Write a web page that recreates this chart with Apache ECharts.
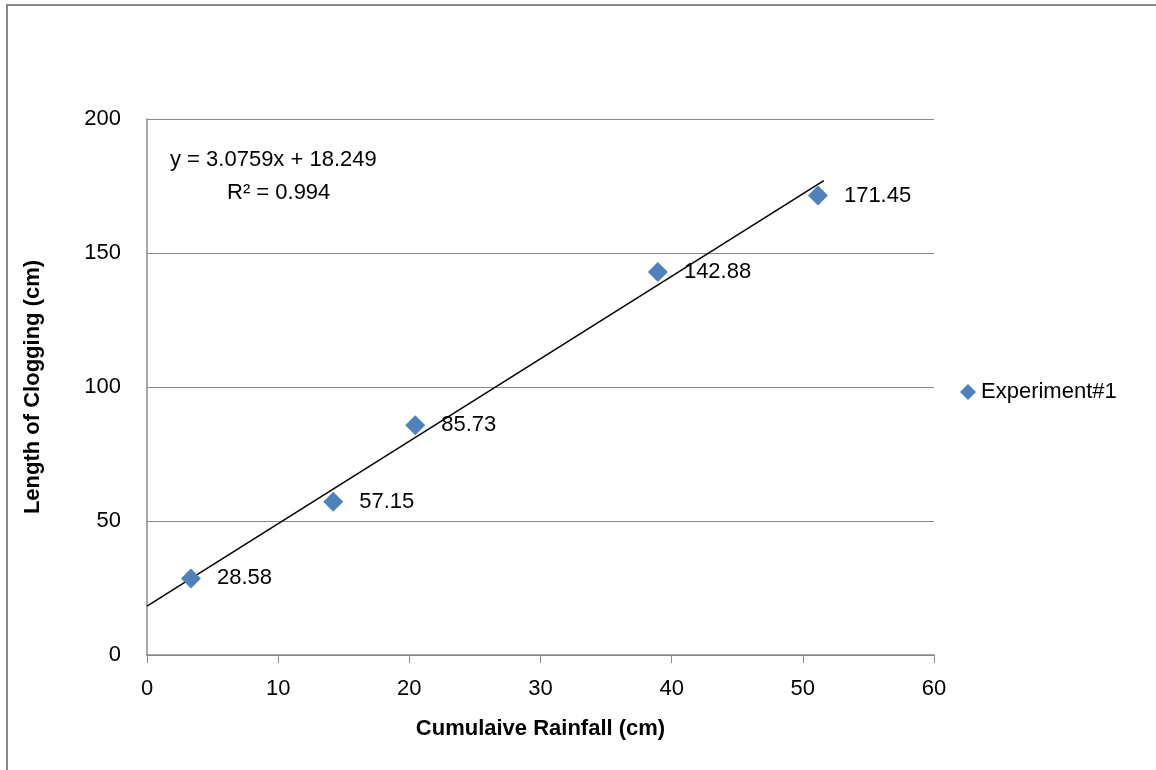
<!DOCTYPE html>
<html><head><meta charset="utf-8">
<script src="https://cdn.jsdelivr.net/npm/echarts@6/dist/echarts.min.js"></script>
<style>html,body{margin:0;padding:0;background:#fff}#c{width:1156px;height:770px}</style>
</head><body><div id="c"></div>
<script>
const rainfall = [3.35, 14.2, 20.45, 38.95, 51.15];
const clogging = [28.58, 57.15, 85.73, 142.88, 171.45];
const xTicks = [0, 10, 20, 30, 40, 50, 60];
const yTicks = [0, 50, 100, 150, 200];
const slope = 3.0759, intercept = 18.249, r2 = 0.994;
const trendStart = 0, trendEnd = 51.6;
const seriesName = 'Experiment#1';
const xTitle = 'Cumulaive Rainfall (cm)';
const yTitle = 'Length of Clogging (cm)';

const FONT = 'Liberation Sans';
const FS = 22;
const chart = echarts.init(document.getElementById('c'));
const pts = rainfall.map((x, i) => [x, clogging[i]]);
const trend = [trendStart, trendEnd].map(x => [x, slope * x + intercept]);
chart.setOption({
  animation: false,
  textStyle: { fontFamily: FONT },
  grid: { left: 147, right: 222, top: 119, bottom: 115 },
  xAxis: {
    type: 'value', min: xTicks[0], max: xTicks[xTicks.length - 1], interval: 10,
    name: xTitle, nameLocation: 'middle', nameGap: 63,
    nameTextStyle: { fontSize: FS, fontWeight: 'bold', color: '#000', fontFamily: FONT },
    axisLine: { lineStyle: { color: '#888', width: 1.5 } },
    axisTick: { show: true, length: 8, lineStyle: { color: '#888' } },
    axisLabel: { fontSize: FS, color: '#000', margin: 23, fontFamily: FONT },
    splitLine: { show: false }
  },
  yAxis: {
    type: 'value', min: yTicks[0], max: yTicks[yTicks.length - 1], interval: 50,
    name: yTitle, nameLocation: 'middle', nameGap: 103, nameRotate: 90,
    nameTextStyle: { fontSize: FS, fontWeight: 'bold', color: '#000', fontFamily: FONT },
    axisLine: { show: true, lineStyle: { color: '#888', width: 1.5 } },
    axisTick: { show: false },
    axisLabel: { fontSize: FS, color: '#000', margin: 26, fontFamily: FONT },
    splitLine: { lineStyle: { color: '#888', width: 1.2 } }
  },
  legend: {
    data: [{ name: seriesName, icon: 'diamond' }],
    orient: 'vertical', left: 955, top: 376,
    itemWidth: 16, itemHeight: 16, itemGap: 6,
    textStyle: { fontSize: FS, color: '#000', fontFamily: FONT }
  },
  graphic: [
    { type: 'rect', shape: { x: 7, y: 5, width: 1200, height: 800 }, style: { fill: 'none', stroke: '#888', lineWidth: 2 }, z: -1 },
    { type: 'text', left: 170, top: 149, style: { text: 'y = ' + slope + 'x + ' + intercept, fontSize: FS, fill: '#000', fontFamily: FONT } },
    { type: 'text', left: 227, top: 182, style: { text: 'R² = ' + r2, fontSize: FS, fill: '#000', fontFamily: FONT } }
  ],
  series: [
    {
      name: 'trend', type: 'line', data: trend, showSymbol: false, symbol: 'none',
      lineStyle: { color: '#000', width: 1.5 }, z: 1, silent: true
    },
    {
      name: seriesName, type: 'scatter', data: pts, symbol: 'diamond', symbolSize: 20,
      itemStyle: { color: '#4F81BD', opacity: 1 }, z: 3,
      label: { show: true, position: 'right', distance: 16, fontSize: FS, color: '#000', fontFamily: FONT,
        formatter: p => p.value[1].toFixed(2) }
    }
  ]
});
</script></body></html>
